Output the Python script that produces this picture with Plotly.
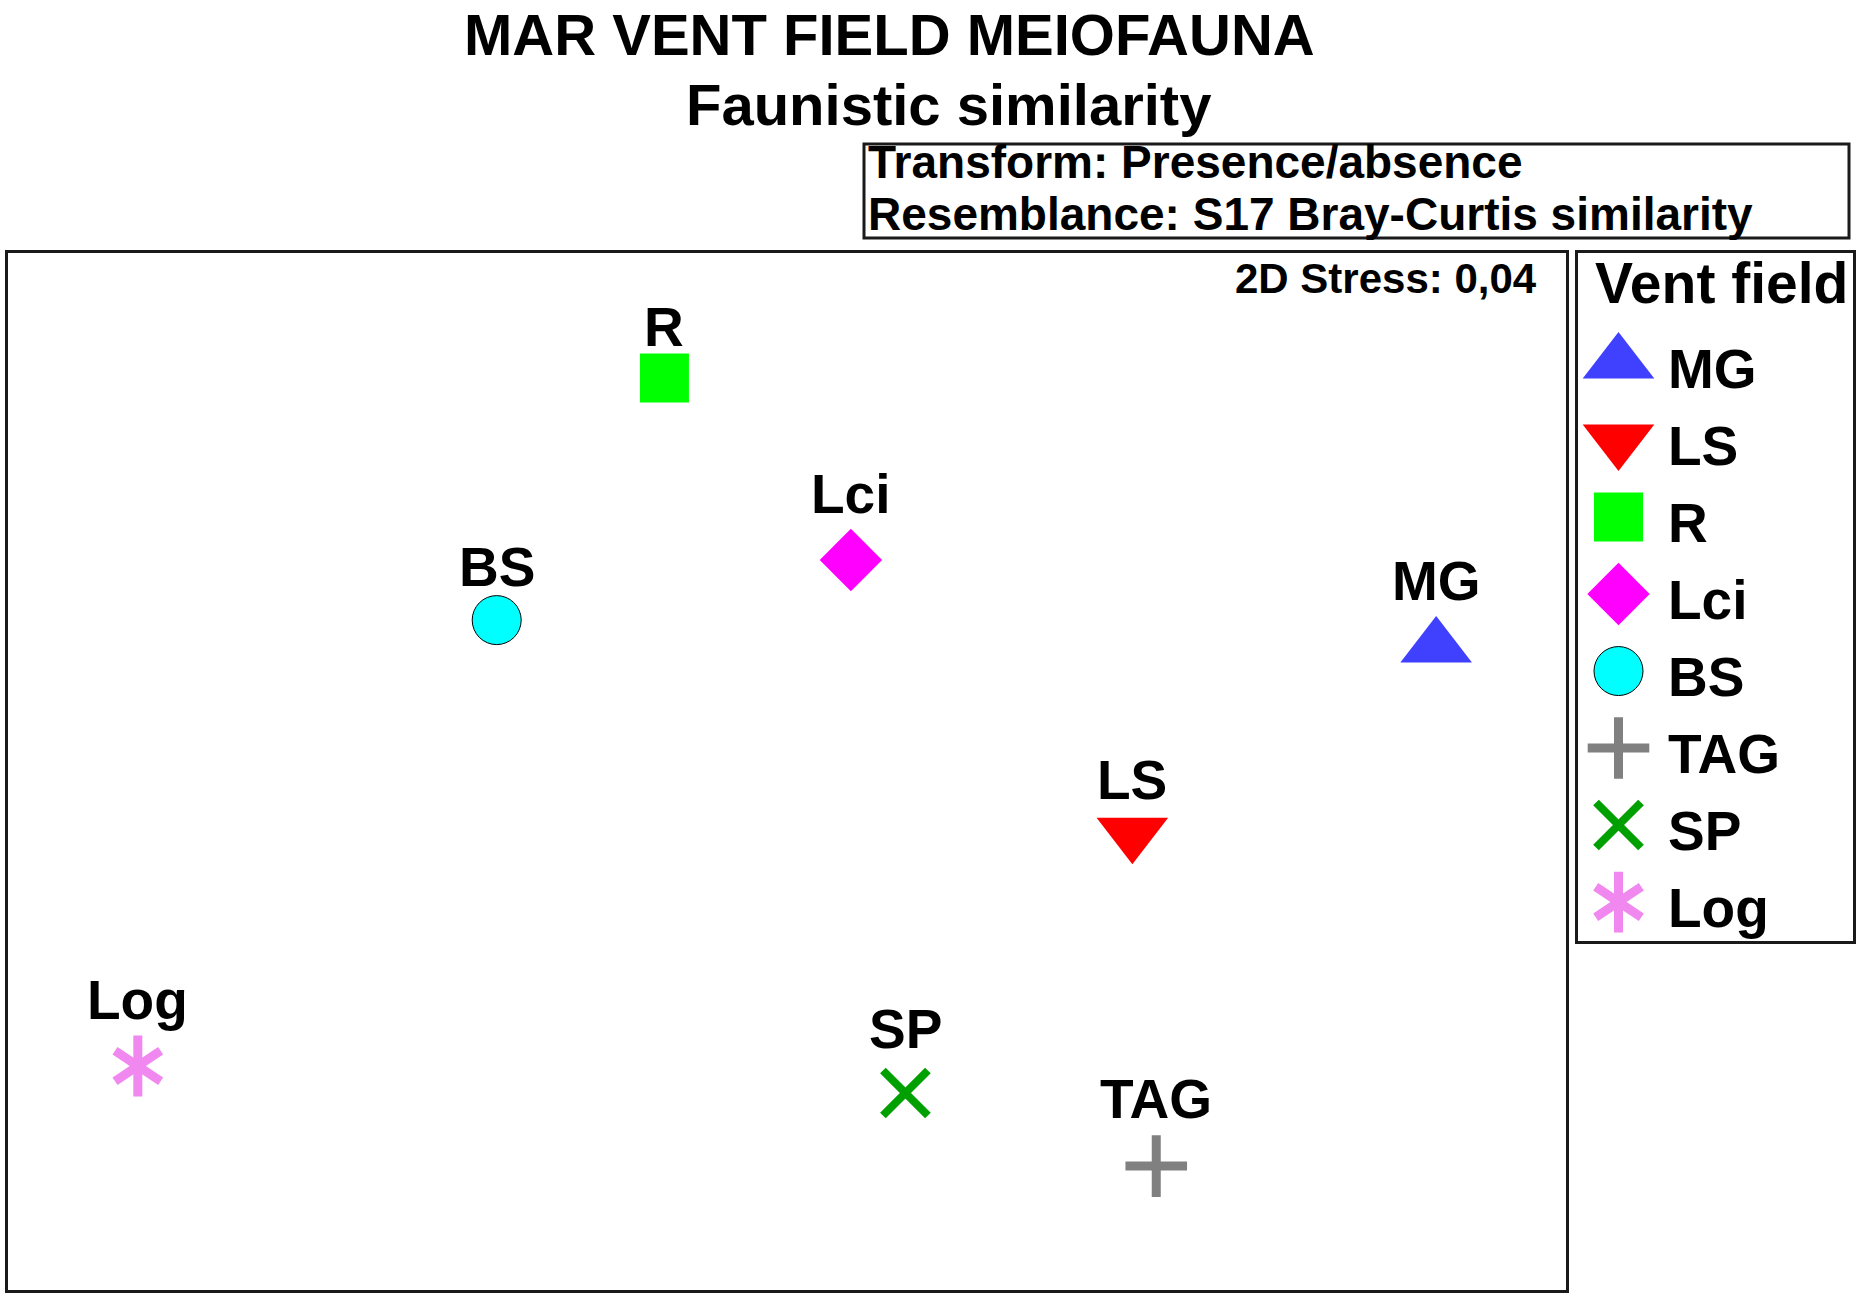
import plotly.graph_objects as go

W, H = 1861, 1299

# ---------------- data ----------------
sites = ["MG", "LS", "R", "Lci", "BS", "TAG", "SP", "Log"]
mds1 = [1.250, 0.665, -0.236, 0.123, -0.559, 0.711, 0.228, -1.250]
mds2 = [0.240, -0.119, 0.759, 0.408, 0.292, -0.761, -0.620, -0.568]
legend_order = ["MG", "LS", "R", "Lci", "BS", "TAG", "SP", "Log"]

title_text = "MAR VENT FIELD MEIOFAUNA"
subtitle_text = "Faunistic similarity"
info_lines = ["Transform: Presence/absence", "Resemblance: S17 Bray-Curtis similarity"]
stress_text = "2D Stress: 0,04"
legend_title = "Vent field"

# ---------------- styles ----------------
FONT = "Liberation Sans, Arial, Helvetica, sans-serif"
# label_dy: distance (px) from marker centre up to label baseline
styles = {
    "MG":  dict(symbols=["triangle-up"], size=62, color="#4040FF", lw=0, lc="#4040FF", label_dy=43),
    "LS":  dict(symbols=["triangle-down"], size=62, color="#FF0000", lw=0, lc="#FF0000", label_dy=30),
    "R":   dict(symbols=["square"], size=49, color="#00FF00", lw=0, lc="#00FF00", label_dy=28),
    "Lci": dict(symbols=["diamond"], size=48, color="#FF00FF", lw=0, lc="#FF00FF", label_dy=43),
    "BS":  dict(symbols=["circle"], size=49, color="#00FFFF", lw=1, lc="#000000", label_dy=30),
    "TAG": dict(symbols=["cross-thin"], size=44, color="#808080", lw=9, lc="#808080", label_dy=44),
    "SP":  dict(symbols=["x-thin"], size=45, color="#00A000", lw=8, lc="#00A000", label_dy=41),
    "Log": dict(symbols=["y-up", "y-down"], size=38, color="#F088F0", lw=9, lc="#F088F0", label_dy=43),
}
BASELINE_TO_MIDDLE = 23
LABEL_SIZE = 55


def px_x(p):
    return p / W


def px_y(p):
    return 1 - p / H


fig = go.Figure()

# main ordination points
for name, xv, yv in zip(sites, mds1, mds2):
    st = styles[name]
    for sym in st["symbols"]:
        fig.add_trace(go.Scatter(
            x=[xv], y=[yv], mode="markers", xaxis="x", yaxis="y",
            marker=dict(symbol=sym, size=st["size"], color=st["color"],
                        line=dict(width=st["lw"], color=st["lc"])),
            showlegend=False, hoverinfo="skip", cliponaxis=False,
        ))
    fig.add_annotation(
        x=xv, y=yv, xref="x", yref="y", text=name, showarrow=False,
        xanchor="center", yanchor="middle",
        yshift=st["label_dy"] + BASELINE_TO_MIDDLE,
        font=dict(family=FONT, size=LABEL_SIZE, color="black", weight="bold"),
    )

# custom legend (in its own axes)
legend_idx = list(range(len(legend_order)))
LEG_MARKER_X = 40.5
LEG_TEXT_X = 88
for i, name in zip(legend_idx, legend_order):
    st = styles[name]
    for sym in st["symbols"]:
        fig.add_trace(go.Scatter(
            x=[LEG_MARKER_X], y=[i], mode="markers", xaxis="x2", yaxis="y2",
            marker=dict(symbol=sym, size=st["size"], color=st["color"],
                        line=dict(width=st["lw"], color=st["lc"])),
            showlegend=False, hoverinfo="skip", cliponaxis=False,
        ))
    fig.add_annotation(
        x=LEG_TEXT_X, y=i, xref="x2", yref="y2", text=name, showarrow=False,
        xanchor="left", yanchor="middle", yshift=-6,
        font=dict(family=FONT, size=LABEL_SIZE, color="black", weight="bold"),
    )

fig.add_annotation(
    x=px_x(1593), y=px_y(283), xref="paper", yref="paper", text=legend_title,
    showarrow=False, xanchor="left", yanchor="middle",
    font=dict(family=FONT, size=57, color="black", weight="bold"),
)

# titles
fig.add_annotation(
    x=px_x(889), y=px_y(34), xref="paper", yref="paper", text=title_text,
    showarrow=False, xanchor="center", yanchor="middle",
    font=dict(family=FONT, size=58, color="black", weight="bold"),
)
fig.add_annotation(
    x=px_x(948), y=px_y(104), xref="paper", yref="paper", text=subtitle_text,
    showarrow=False, xanchor="center", yanchor="middle",
    font=dict(family=FONT, size=58, color="black", weight="bold"),
)

# info box
fig.add_shape(type="rect", xref="paper", yref="paper",
              x0=px_x(864), x1=px_x(1849), y0=px_y(238), y1=px_y(144),
              line=dict(color="#1a1a1a", width=3), fillcolor="rgba(0,0,0,0)")
for line, mid in zip(info_lines, [162, 214]):
    fig.add_annotation(
        x=px_x(866), y=px_y(mid), xref="paper", yref="paper", text=line,
        showarrow=False, xanchor="left", yanchor="middle",
        font=dict(family=FONT, size=46, color="black", weight="bold"),
    )

# stress
fig.add_annotation(
    x=px_x(1539), y=px_y(279), xref="paper", yref="paper", text=stress_text,
    showarrow=False, xanchor="right", yanchor="middle",
    font=dict(family=FONT, size=42, color="black", weight="bold"),
)

axis_common = dict(showline=True, mirror=True, linewidth=3, linecolor="#1a1a1a",
                   showgrid=False, zeroline=False, showticklabels=False, ticks="",
                   fixedrange=True)

fig.update_layout(
    width=W, height=H,
    margin=dict(l=0, r=0, t=0, b=0),
    paper_bgcolor="white", plot_bgcolor="white",
    showlegend=False,
    xaxis=dict(domain=[px_x(8), px_x(1566)], range=[-1.5, 1.5], **axis_common),
    yaxis=dict(domain=[px_y(1290), px_y(253)], range=[-1.0, 1.0], **axis_common),
    xaxis2=dict(domain=[px_x(1578), px_x(1853)], range=[0, 275], anchor="y2", **axis_common),
    yaxis2=dict(domain=[px_y(941), px_y(253)], range=[7.506, -1.429], anchor="x2", **axis_common),
)

fig.write_html("out.html", config={"displayModeBar": False},
               post_script="document.body.style.margin='0px';")
